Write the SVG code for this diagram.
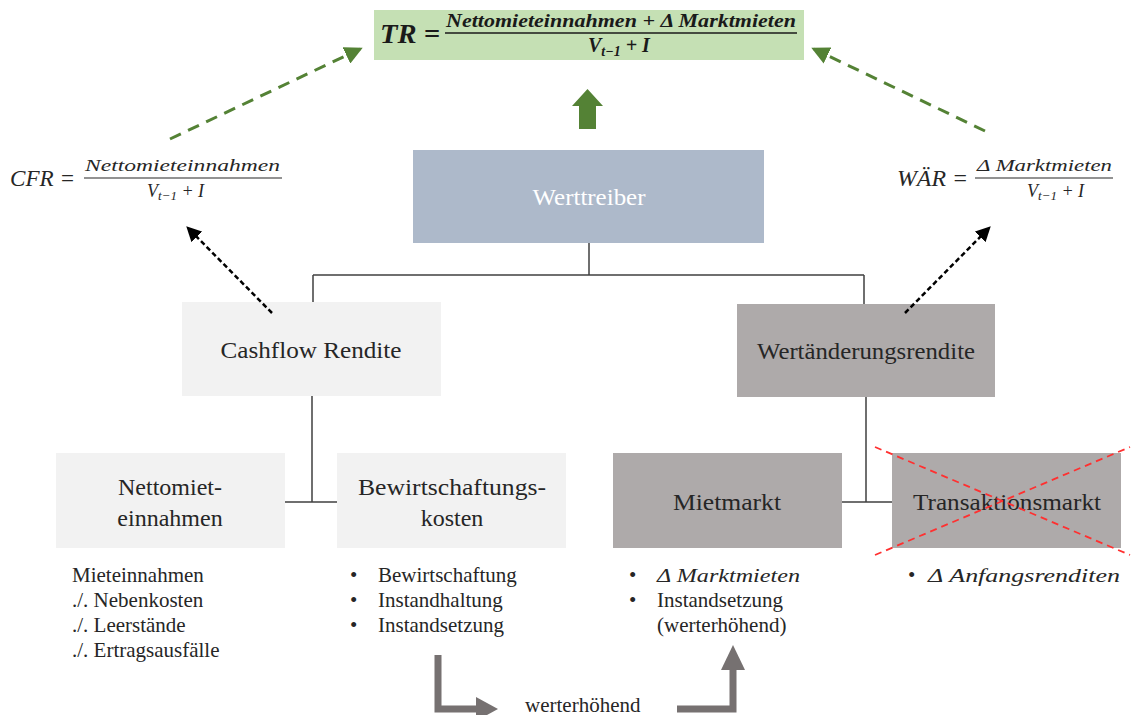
<svg xmlns="http://www.w3.org/2000/svg" width="1135" height="715" viewBox="0 0 1135 715">
<defs>
<style>
.lbl{font-family:"Liberation Serif",serif;font-size:24px;fill:#262626;text-anchor:middle}
.lst{font-family:"Liberation Serif",serif;font-size:21px;fill:#262626}
.math{font-family:"Liberation Serif",serif;font-style:italic;fill:#262626}
.mathb{font-family:"Liberation Serif",serif;font-style:italic;font-weight:bold;fill:#1a1a1a}
.conn{stroke:#404040;stroke-width:1.5;fill:none}
.gdash{stroke:#548235;stroke-width:3;stroke-dasharray:12 8;fill:none}
.kdash{stroke:#000;stroke-width:2.5;stroke-dasharray:5 3;fill:none}
.gray{stroke:#767171;stroke-width:7;fill:none}
</style>
<marker id="ga" markerWidth="6" markerHeight="6" refX="5" refY="3" orient="auto" markerUnits="strokeWidth"><path d="M0,0 L6,3 L0,6 Z" fill="#548235"/></marker>
<marker id="ka" markerWidth="6" markerHeight="6" refX="5" refY="3" orient="auto" markerUnits="strokeWidth"><path d="M0,0 L6,3 L0,6 Z" fill="#000"/></marker>
</defs>

<g id="tr-formula">
<rect x="374" y="10" width="430" height="50" fill="#c5e0b4"/>
<text class="mathb" x="380" y="43" font-size="27" textLength="60" lengthAdjust="spacingAndGlyphs">TR =</text>
<text class="mathb" x="446" y="27" font-size="19" textLength="350" lengthAdjust="spacingAndGlyphs">Nettomieteinnahmen + Δ Marktmieten</text>
<line x1="445" y1="33" x2="797" y2="33" stroke="#1a1a1a" stroke-width="1.5"/>
<text class="mathb" x="588" y="52" font-size="20">V<tspan font-size="14" dy="4">t−1</tspan><tspan dy="-4"> + I</tspan></text>
</g>

<g id="cfr-formula">
<text class="math" x="10" y="186" font-size="24" textLength="65" lengthAdjust="spacingAndGlyphs">CFR =</text>
<text class="math" x="85" y="171" font-size="17" textLength="195" lengthAdjust="spacingAndGlyphs">Nettomieteinnahmen</text>
<line x1="84" y1="178" x2="282" y2="178" stroke="#262626" stroke-width="1.2"/>
<text class="math" x="147" y="197" font-size="18">V<tspan font-size="13" dy="3">t−1</tspan><tspan dy="-3"> + I</tspan></text>
</g>

<g id="waer-formula">
<text class="math" x="897" y="186" font-size="24" textLength="71" lengthAdjust="spacingAndGlyphs">WÄR =</text>
<text class="math" x="977" y="171" font-size="17" textLength="135" lengthAdjust="spacingAndGlyphs">Δ Marktmieten</text>
<line x1="975" y1="178" x2="1113" y2="178" stroke="#262626" stroke-width="1.2"/>
<text class="math" x="1027" y="197" font-size="18">V<tspan font-size="13" dy="3">t−1</tspan><tspan dy="-3"> + I</tspan></text>
</g>

<g id="up-arrow">
<polygon points="587.5,89 603,106 596,106 596,129 579,129 579,106 572,106" fill="#548235"/>
</g>

<g id="werttreiber">
<rect x="413" y="150" width="351" height="93" fill="#adb9ca"/>
<text class="lbl" x="589" y="205" style="fill:#fff" textLength="113" lengthAdjust="spacingAndGlyphs">Werttreiber</text>
</g>

<g id="cashflow-rendite">
<rect x="182" y="302" width="259" height="94" fill="#f2f2f2"/>
<text class="lbl" x="311" y="358" textLength="181" lengthAdjust="spacingAndGlyphs">Cashflow Rendite</text>
</g>

<g id="wertaenderungsrendite">
<rect x="737" y="304" width="258" height="93" fill="#aeaaaa"/>
<text class="lbl" x="866" y="359" textLength="218" lengthAdjust="spacingAndGlyphs">Wertänderungsrendite</text>
</g>

<g id="nettomieteinnahmen">
<rect x="56" y="453" width="229" height="95" fill="#f2f2f2"/>
<text class="lbl" x="170" y="495">Nettomiet-</text>
<text class="lbl" x="170" y="526">einnahmen</text>
</g>

<g id="bewirtschaftungskosten">
<rect x="337" y="453" width="229" height="95" fill="#f2f2f2"/>
<text class="lbl" x="452" y="495" textLength="188" lengthAdjust="spacingAndGlyphs">Bewirtschaftungs-</text>
<text class="lbl" x="452" y="526">kosten</text>
</g>

<g id="mietmarkt">
<rect x="613" y="453" width="229" height="95" fill="#aeaaaa"/>
<text class="lbl" x="727" y="510" textLength="108" lengthAdjust="spacingAndGlyphs">Mietmarkt</text>
</g>

<g id="transaktionsmarkt">
<rect x="892" y="453" width="229" height="95" fill="#aeaaaa"/>
<text class="lbl" x="1007" y="510" textLength="188" lengthAdjust="spacingAndGlyphs">Transaktionsmarkt</text>
<line x1="875" y1="447" x2="1130" y2="555" stroke="#ff3030" stroke-width="1.8" stroke-dasharray="7 5"/>
<line x1="875" y1="555" x2="1130" y2="447" stroke="#ff3030" stroke-width="1.8" stroke-dasharray="7 5"/>
</g>

<g id="lists">
<text class="lst" x="72" y="582">Mieteinnahmen</text>
<text class="lst" x="72" y="607">./. Nebenkosten</text>
<text class="lst" x="72" y="632">./. Leerstände</text>
<text class="lst" x="72" y="657">./. Ertragsausfälle</text>
<text class="lst" x="350" y="582">•</text><text class="lst" x="378" y="582">Bewirtschaftung</text>
<text class="lst" x="350" y="607">•</text><text class="lst" x="378" y="607">Instandhaltung</text>
<text class="lst" x="350" y="632">•</text><text class="lst" x="378" y="632">Instandsetzung</text>
<text class="lst" x="629" y="582">•</text><text class="math" x="657" y="582" font-size="19" textLength="143" lengthAdjust="spacingAndGlyphs">Δ Marktmieten</text>
<text class="lst" x="629" y="607">•</text><text class="lst" x="657" y="607">Instandsetzung</text>
<text class="lst" x="657" y="632">(werterhöhend)</text>
<text class="lst" x="908" y="582">•</text><text class="math" x="928" y="582" font-size="19" textLength="192" lengthAdjust="spacingAndGlyphs">Δ Anfangsrenditen</text>
<text class="lst" x="525" y="712">werterhöhend</text>
</g>

<g id="connectors">
<path class="conn" d="M589,243 V275 M313,275 H864 M313,275 V302 M864,275 V304"/>
<path class="conn" d="M312,396 V502 M285,502 H337"/>
<path class="conn" d="M866,397 V502 M842,502 H892"/>
<line class="kdash" x1="272" y1="313" x2="188" y2="228" marker-end="url(#ka)"/>
<line class="kdash" x1="905" y1="313" x2="989" y2="228" marker-end="url(#ka)"/>
<line class="gdash" x1="170" y1="139" x2="360" y2="49" marker-end="url(#ga)"/>
<line class="gdash" x1="985" y1="131" x2="814" y2="49" marker-end="url(#ga)"/>
<path class="gray" d="M438,655 V709 H478"/>
<polygon points="476,697 498,709 476,721" fill="#767171"/>
<path class="gray" d="M677,709 H733 V668"/>
<polygon points="721,670 733,645 745,670" fill="#767171"/>
</g>
</svg>
